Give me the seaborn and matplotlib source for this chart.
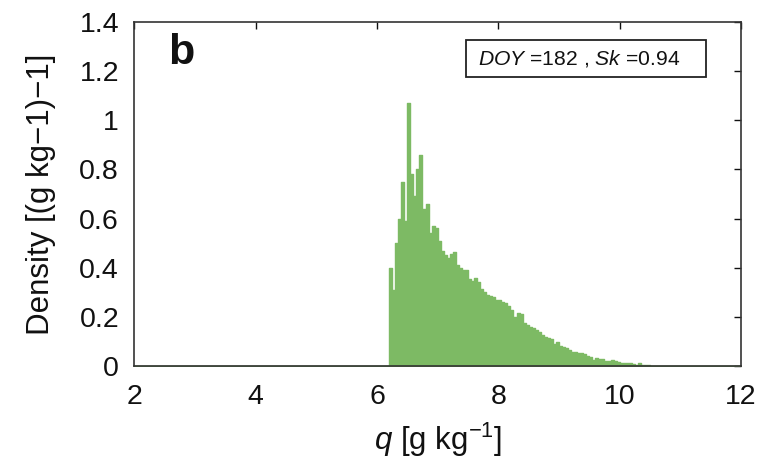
import numpy as np
import pandas as pd
import matplotlib
matplotlib.use("Agg")
import matplotlib.pyplot as plt
import seaborn as sns
from matplotlib.patches import Rectangle

# ---- data ----
bin_width = 0.05
first_edge = 6.20
heights = [
    0.40, 0.31, 0.50, 0.60, 0.75, 0.59, 1.07, 0.78, 0.69, 0.80,
    0.86, 0.64, 0.66, 0.54, 0.57, 0.56, 0.51, 0.47, 0.45, 0.44,
    0.455, 0.465, 0.41, 0.40, 0.39, 0.39, 0.355, 0.345, 0.36, 0.34,
    0.315, 0.30, 0.29, 0.285, 0.28, 0.27, 0.27, 0.26, 0.255, 0.245,
    0.228, 0.20, 0.215, 0.21, 0.175, 0.167, 0.16, 0.155, 0.145, 0.138,
    0.126, 0.12, 0.113, 0.11, 0.088, 0.097, 0.08, 0.078, 0.072, 0.065,
    0.058, 0.057, 0.054, 0.051, 0.049, 0.042, 0.036, 0.026, 0.031, 0.028,
    0.027, 0.022, 0.020, 0.024, 0.020, 0.016, 0.011, 0.011, 0.011, 0.011,
    0.008, 0.006, 0.011, 0.004, 0.003, 0.003, 0.002, 0.002,
]
x_range = (2, 12)
y_range = (0, 1.4)
x_ticks = [2, 4, 6, 8, 10, 12]
y_ticks = [0, 0.2, 0.4, 0.6, 0.8, 1.0, 1.2, 1.4]
y_ticklabels = ["0", "0.2", "0.4", "0.6", "0.8", "1", "1.2", "1.4"]
panel_label = "b"
doy = 182
skew = 0.94

# ---- build full-range bins (zero outside the data) ----
n_lo = int(round((first_edge - x_range[0]) / bin_width))
n_hi = int(round((x_range[1] - first_edge) / bin_width)) - len(heights)
all_heights = [0.0] * n_lo + heights + [0.0] * n_hi
edges = x_range[0] + bin_width * np.arange(len(all_heights) + 1)
centers = (edges[:-1] + edges[1:]) / 2
df = pd.DataFrame({"q": centers, "w": all_heights})

sns.set_style("white")
plt.rcParams["font.family"] = ["Liberation Sans", "DejaVu Sans"]
plt.rcParams["mathtext.fontset"] = "custom"
plt.rcParams["mathtext.rm"] = "Liberation Sans"
plt.rcParams["mathtext.it"] = "Liberation Sans:italic"
plt.rcParams["mathtext.bf"] = "Liberation Sans:bold"

fig = plt.figure(figsize=(7.62, 4.71), dpi=100)
ax = fig.add_axes([0.1763, 0.2229, 0.7961, 0.7304])

green = "#7dba64"
sns.histplot(data=df, x="q", weights="w", bins=[float(e) for e in edges],
             stat="count", element="step", fill=True, color=green, alpha=1.0,
             edgecolor=green, linewidth=1.0, ax=ax)

ax.set_xlim(*x_range)
ax.set_ylim(*y_range)
ax.set_xticks(x_ticks)
ax.set_xticklabels([str(t) for t in x_ticks])
ax.set_yticks(y_ticks)
ax.set_yticklabels(y_ticklabels)
ax.tick_params(direction="in", length=5, width=1.0, top=True, right=True,
               labelsize=20.5, pad=11, colors="#111111")
ax.tick_params(axis="x", pad=13)
for s in ax.spines.values():
    s.set_visible(True)
    s.set_linewidth(1.2)
    s.set_color("#333333")

ax.set_xlabel(r"$q$ [g kg$^{-1}$]", fontsize=22.5, labelpad=8, color="#111111")
ax.set_ylabel("Density [(g kg\u22121)\u22121]", fontsize=22.5, labelpad=17,
              color="#111111")

ax.text(0.055, 0.968, panel_label, transform=ax.transAxes, fontsize=31,
        fontweight="bold", va="top", ha="left", color="#111111")

ax.add_patch(Rectangle((0.547, 0.840), 0.3956, 0.1076, transform=ax.transAxes,
                       facecolor="white", edgecolor="#222222", linewidth=1.3,
                       zorder=5))
ax.text(0.547 + 0.3956 / 2 - 0.012, 0.840 + 0.1076 / 2,
        r"$DOY$ =%d , $Sk$ =%.2f" % (doy, skew),
        transform=ax.transAxes,
        fontsize=15.2, ha="center", va="center", zorder=6, color="#111111")

fig.savefig("out.png", dpi=100)
